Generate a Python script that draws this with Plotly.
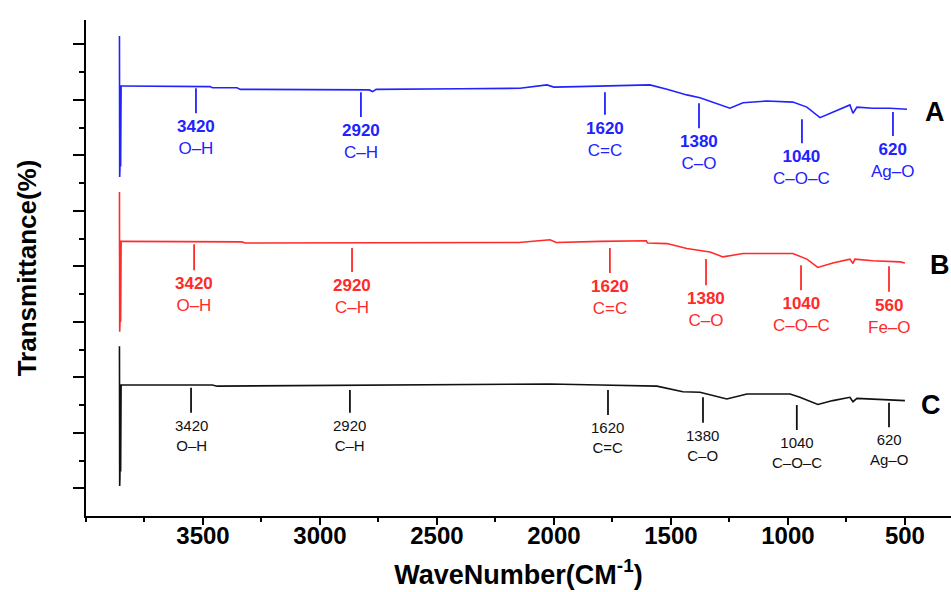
import plotly.graph_objects as go

# ---------------- data ----------------
wn_A = [3857, 3856, 3855, 3853, 3852, 3850, 3846, 3470, 3460, 3355, 3340, 2900, 2790, 2775, 2760,
        2400, 2145, 2030, 2000, 1900, 1803, 1632, 1590, 1517, 1432, 1376, 1320, 1248, 1192, 1090,
        979, 919, 863, 808, 735, 722, 705, 637, 564, 491]
T_A = [86.5, 61.1, 62.5, 76.0, 63.0, 77.5, 77.5, 77.4, 77.2, 77.2, 76.9, 76.9, 76.8, 76.5, 76.9,
       77.0, 77.1, 77.7, 77.3, 77.4, 77.5, 77.7, 77.7, 76.9, 75.9, 75.4, 74.6, 73.5, 74.5, 74.8,
       74.6, 73.7, 71.8, 72.8, 74.1, 72.6, 73.7, 73.5, 73.5, 73.3]

wn_B = [3857, 3856, 3855, 3853, 3852, 3850, 3846, 3460, 3450, 3335, 3320, 2150, 2017, 1990, 1803,
        1632, 1605, 1600, 1517, 1432, 1333, 1278, 1192, 979, 919, 872, 808, 735, 722, 714, 637,
        521, 500]
T_B = [58.4, 33.2, 34.5, 48.0, 35.0, 49.5, 49.5, 49.5, 49.4, 49.4, 49.2, 49.3, 49.8, 49.3, 49.5,
       49.6, 49.6, 49.2, 49.1, 48.2, 47.6, 46.7, 47.3, 47.3, 46.3, 44.8, 45.6, 46.3, 45.5, 46.3,
       46.0, 45.8, 45.6]

wn_C = [3857, 3856, 3855, 3853, 3852, 3850, 3846, 3460, 3440, 2017, 1803, 1560, 1449, 1376, 1261,
        1175, 991, 949, 872, 808, 735, 722, 705, 577, 500]
T_C = [30.6, 5.4, 7.0, 22.0, 8.0, 23.6, 23.6, 23.6, 23.4, 23.8, 23.6, 23.4, 22.4, 22.3, 21.1,
       22.0, 22.0, 21.4, 20.1, 20.8, 21.4, 20.6, 21.2, 20.9, 20.8]

# band marker annotations (position where drawn, line top / bottom)
mark_num_A = ["3420", "2920", "1620", "1380", "1040", "620"]
mark_grp_A = ["O–H", "C–H", "C=C", "C–O", "C–O–C", "Ag–O"]
mark_wn_A = [3530, 2825, 1782, 1380, 940, 551]
mark_top_A = [77.1, 76.4, 76.4, 74.4, 71.5, 72.8]
mark_bot_A = [72.6, 71.9, 72.3, 69.9, 67.2, 68.5]

mark_num_B = ["3420", "2920", "1620", "1380", "1040", "560"]
mark_grp_B = ["O–H", "C–H", "C=C", "C–O", "C–O–C", "Fe–O"]
mark_wn_B = [3538, 2863, 1761, 1350, 944, 568]
mark_top_B = [49.0, 48.3, 48.3, 46.3, 45.2, 45.0]
mark_bot_B = [44.3, 44.0, 43.8, 41.6, 40.7, 40.4]

mark_num_C = ["3420", "2920", "1620", "1380", "1040", "620"]
mark_grp_C = ["O–H", "C–H", "C=C", "C–O", "C–O–C", "Ag–O"]
mark_wn_C = [3551, 2872, 1769, 1363, 962, 568]
mark_top_C = [23.1, 22.7, 22.7, 21.4, 20.0, 20.4]
mark_bot_C = [18.6, 18.6, 18.2, 16.8, 15.5, 16.0]

series_names = ["A", "B", "C"]
letter_wn = [372, 350, 389]
letter_T = [72.8, 45.2, 20.0]

x_major = [3500, 3000, 2500, 2000, 1500, 1000, 500]
x_minor = [4000, 3750, 3250, 2750, 2250, 1750, 1250, 750]
y_major = [5, 15, 25, 35, 45, 55, 65, 75, 85]
y_minor = [10, 20, 30, 40, 50, 60, 70, 80]

# ---------------- figure ----------------
BLUE = "#2222ff"
RED = "#ff2a2a"
BLACK = "#111111"
SANS = "Liberation Sans, Arial, sans-serif"

fig = go.Figure()

groups = [
    (wn_A, T_A, mark_wn_A, mark_top_A, mark_bot_A, mark_num_A, mark_grp_A, BLUE, True),
    (wn_B, T_B, mark_wn_B, mark_top_B, mark_bot_B, mark_num_B, mark_grp_B, RED, True),
    (wn_C, T_C, mark_wn_C, mark_top_C, mark_bot_C, mark_num_C, mark_grp_C, BLACK, False),
]

for wn, T, mw, mt, mb, mn, mg, col, bold in groups:
    fig.add_trace(go.Scatter(x=wn, y=T, mode="lines", line=dict(color=col, width=1.6),
                             showlegend=False, hoverinfo="skip"))
    lx, ly = [], []
    for w, t, b in zip(mw, mt, mb):
        lx += [w, w, None]
        ly += [t, b, None]
    fig.add_trace(go.Scatter(x=lx, y=ly, mode="lines", line=dict(color=col, width=1.8),
                             showlegend=False, hoverinfo="skip"))
    for w, b, n, g in zip(mw, mb, mn, mg):
        if bold:
            txt = f"<b>{n}</b><br>{g}"
            fnt = dict(family=SANS, size=17, color=col)
        else:
            txt = f"{n}<br>{g}"
            fnt = dict(family="Liberation Sans Narrow, Arial Narrow, Liberation Sans, sans-serif",
                       size=15, color=col)
        fig.add_annotation(x=w, y=b, text=txt, showarrow=False, xanchor="center", yanchor="top",
                           yshift=-2, font=fnt, align="center")

for name, w, t in zip(series_names, letter_wn, letter_T):
    fig.add_annotation(x=w, y=t, text=f"<b>{name}</b>", showarrow=False, xanchor="center",
                       yanchor="middle", font=dict(family=SANS, size=27, color="black"))

fig.update_layout(
    width=951, height=592,
    margin=dict(l=86, r=0, t=20, b=76),
    paper_bgcolor="white", plot_bgcolor="white",
    hovermode=False,
    xaxis=dict(
        range=[4000, 303], showgrid=False, zeroline=False,
        showline=True, linecolor="black", linewidth=2,
        ticks="outside", ticklen=7, tickwidth=2, tickcolor="black",
        tickmode="array", tickvals=x_major, ticktext=[str(v) for v in x_major],
        tickfont=dict(family=SANS, size=24, color="black", weight="bold"),
        ticklabelposition="outside", ticklabelstandoff=-10,
        minor=dict(tickmode="array", tickvals=x_minor, ticks="outside", ticklen=4,
                   tickwidth=2, tickcolor="black", showgrid=False),
        title=dict(text="<b>WaveNumber(CM<sup>-1</sup>)</b>",
                   font=dict(family=SANS, size=27, color="black"),
                   standoff=17),
    ),
    yaxis=dict(
        range=[0, 89.4], showgrid=False, zeroline=False,
        showline=True, linecolor="black", linewidth=2,
        ticks="outside", ticklen=11, tickwidth=2, tickcolor="black",
        tickmode="array", tickvals=y_major, showticklabels=False,
        minor=dict(tickmode="array", tickvals=y_minor, ticks="outside", ticklen=5,
                   tickwidth=2, tickcolor="black", showgrid=False),
        title=dict(text="<b>Transmittance(%)</b>",
                   font=dict(family=SANS, size=26, color="black"),
                   standoff=29),
    ),
)

fig.write_html("out.html")
